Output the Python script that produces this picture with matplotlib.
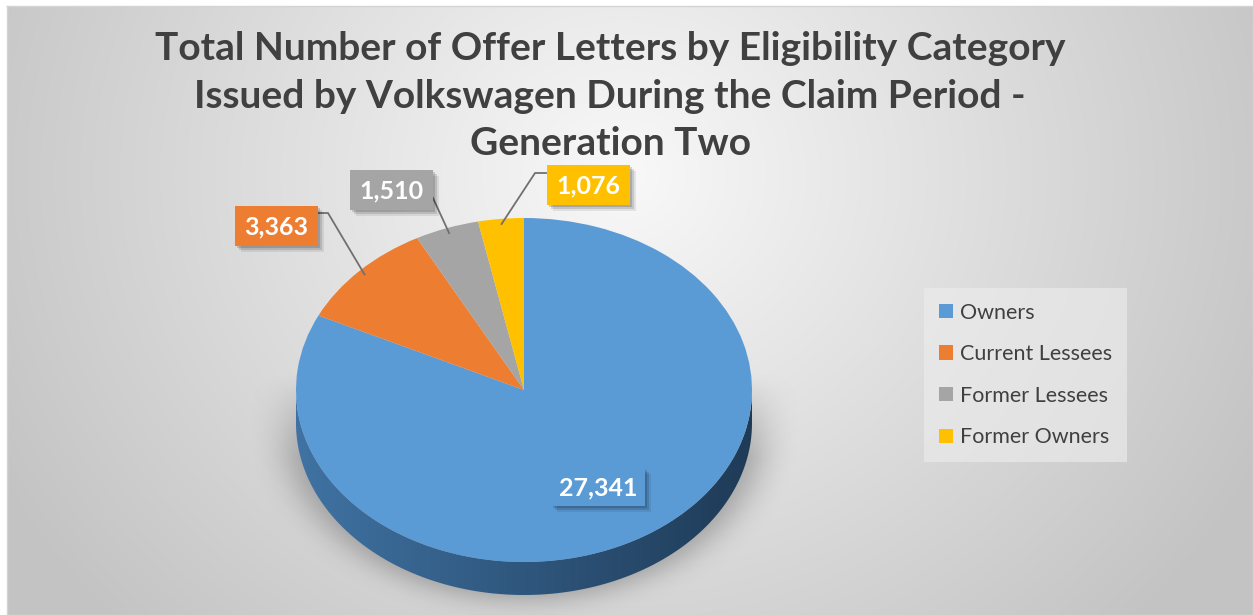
import numpy as np
import matplotlib.pyplot as plt
from matplotlib.patches import Polygon, Rectangle

# data
categories = ["Owners", "Current Lessees", "Former Lessees", "Former Owners"]
counts = [27341, 3363, 1510, 1076]
value_labels = ["27,341", "3,363", "1,510", "1,076"]
colors = ["#5b9bd5", "#ed7d31", "#a5a5a5", "#ffc000"]
title = ("Total Number of Offer Letters by Eligibility Category\n"
         "Issued by Volkswagen During the Claim Period -\nGeneration Two")

W, H = 1253, 615
plt.rcParams['font.family'] = ['Lato', 'DejaVu Sans']
fig = plt.figure(figsize=(W / 100, H / 100), dpi=100)

# background with radial gradient, drawn in pixel coordinates
bg = fig.add_axes([0, 0, 1, 1])
bg.set_xlim(0, W)
bg.set_ylim(H, 0)
bg.axis('off')
yy, xx = np.mgrid[0:H, 0:W]
dist = np.hypot(xx - 620, (yy - 170) * 1.1) / 720
shade = np.clip(0.975 - 0.21 * np.clip(dist, 0, 1), 0, 1)
bg.imshow(np.dstack([shade] * 3), extent=(7, W, H, 6), zorder=0)
bg.plot([7, W, W, 7, 7], [6, 6, H, H, 6], color="#d4d4d4", lw=1, zorder=1)

# pie geometry (pixels)
cx, cy, rx, ry, depth = 524, 390, 228, 172, 33
d = depth / ry
ax = fig.add_axes([0, 0, 1, 1])
ax.axis('off')

# soft shadow behind the pie
sx = np.linspace(-cx / rx, (W - cx) / rx, 400)
sy = np.linspace(-(H - cy) / ry, cy / ry, 300)
SX, SY = np.meshgrid(sx, sy)
inside = (np.abs(SX) < 1.05) & (SY < 0.1) & ((SX / 1.05) ** 2 + ((SY + d + 0.03) / 1.0) ** 2 < 1.0) | \
         ((np.abs(SX) < 1.05) & (SY < 0.1) & (SY > -d))
mask = inside.astype(float)
k = np.ones(13) / 13
for _ in range(2):
    mask = np.apply_along_axis(lambda r: np.convolve(r, k, mode='same'), 1, mask)
    mask = np.apply_along_axis(lambda c: np.convolve(c, k, mode='same'), 0, mask)
vert = np.clip((0.1 - SY) / 0.5, 0, 1)
shadow = np.zeros(mask.shape + (4,))
shadow[..., :3] = 0.42
shadow[..., 3] = mask * vert * 0.55
ax.imshow(shadow, extent=(sx[0], sx[-1], sy[0], sy[-1]), origin='lower',
          aspect='auto', zorder=1)

# side of the disc (front half)
t = np.linspace(np.pi, 2 * np.pi, 200)
side_xy = np.concatenate([np.c_[np.cos(t), np.sin(t)],
                          np.c_[np.cos(t[::-1]), np.sin(t[::-1]) - d]])
side = Polygon(side_xy, closed=True, facecolor='none', edgecolor='none', zorder=2)
ax.add_patch(side)
gx = np.linspace(0, 1, 256)
side_col = np.array([[0.25, 0.45, 0.64]]) * (1 - gx[:, None]) + np.array([[0.12, 0.23, 0.34]]) * gx[:, None]
side_img = ax.imshow(side_col[None, :, :], extent=(-1, 1, -1 - d, 0), aspect='auto', zorder=2)
side_img.set_clip_path(side)

# top face
wedges, _ = ax.pie(counts, colors=colors, startangle=90, counterclock=False,
                   radius=1, wedgeprops=dict(linewidth=0))
for w in wedges:
    w.set_zorder(3)
ax.set_aspect('auto')
ax.set_xlim(-cx / rx, (W - cx) / rx)
ax.set_ylim(-(H - cy) / ry, cy / ry)

# overlay in pixel coordinates for labels
ov = fig.add_axes([0, 0, 1, 1])
ov.set_xlim(0, W)
ov.set_ylim(H, 0)
ov.axis('off')

fig.text(0.487, 1 - 96 / H, title, ha='center', va='center', fontsize=28,
         fontweight='bold', color='#404040', linespacing=1.43)

# data label boxes: centre (px), leader start points
box_centres = [(598, 487), (276, 226), (391, 190), (588, 185)]
leaders = [None, [(318, 213), (328, 213)], [(433, 198)], [(546, 173), (535, 173)]]
bw, bh = [94, 83, 83, 83], [38, 40, 40, 40]
angles = 90 - 360 * np.cumsum([0] + counts[:-1]) / sum(counts)
mids = angles - 180 * np.array(counts) / sum(counts)
for i, (bx, by) in enumerate(box_centres):
    if leaders[i] is not None:
        a = np.deg2rad(mids[i])
        ex, ey = cx + rx * 0.97 * np.cos(a), cy - ry * 0.97 * np.sin(a)
        pts = leaders[i] + [(ex, ey)]
        ov.plot([p[0] for p in pts], [p[1] for p in pts], color='#707070', lw=1.3, zorder=4)
    for off, al in [(6, 0.08), (4, 0.12), (2, 0.15)]:
        ov.add_patch(Rectangle((bx - bw[i] / 2 + off, by - bh[i] / 2 + off), bw[i], bh[i],
                               facecolor='black', alpha=al, edgecolor='none', zorder=4))
    ov.add_patch(Rectangle((bx - bw[i] / 2, by - bh[i] / 2), bw[i], bh[i],
                           facecolor=colors[i], edgecolor='none', zorder=5))
    ov.text(bx, by + 1, value_labels[i], ha='center', va='center', fontsize=18,
            fontweight='bold', color='white', zorder=6)

# legend
leg = fig.legend(wedges, categories, loc='center left',
                 bbox_to_anchor=(924 / W, 1 - 375 / H), fontsize=15.5,
                 frameon=True, fancybox=False, facecolor='#ececec', edgecolor='none',
                 framealpha=0.65, handlelength=0.65, handleheight=0.65,
                 handletextpad=0.3, labelspacing=1.0, borderpad=0.7,
                 borderaxespad=0)
for txt in leg.get_texts():
    txt.set_color('#404040')

fig.savefig('out.png', dpi=100)
